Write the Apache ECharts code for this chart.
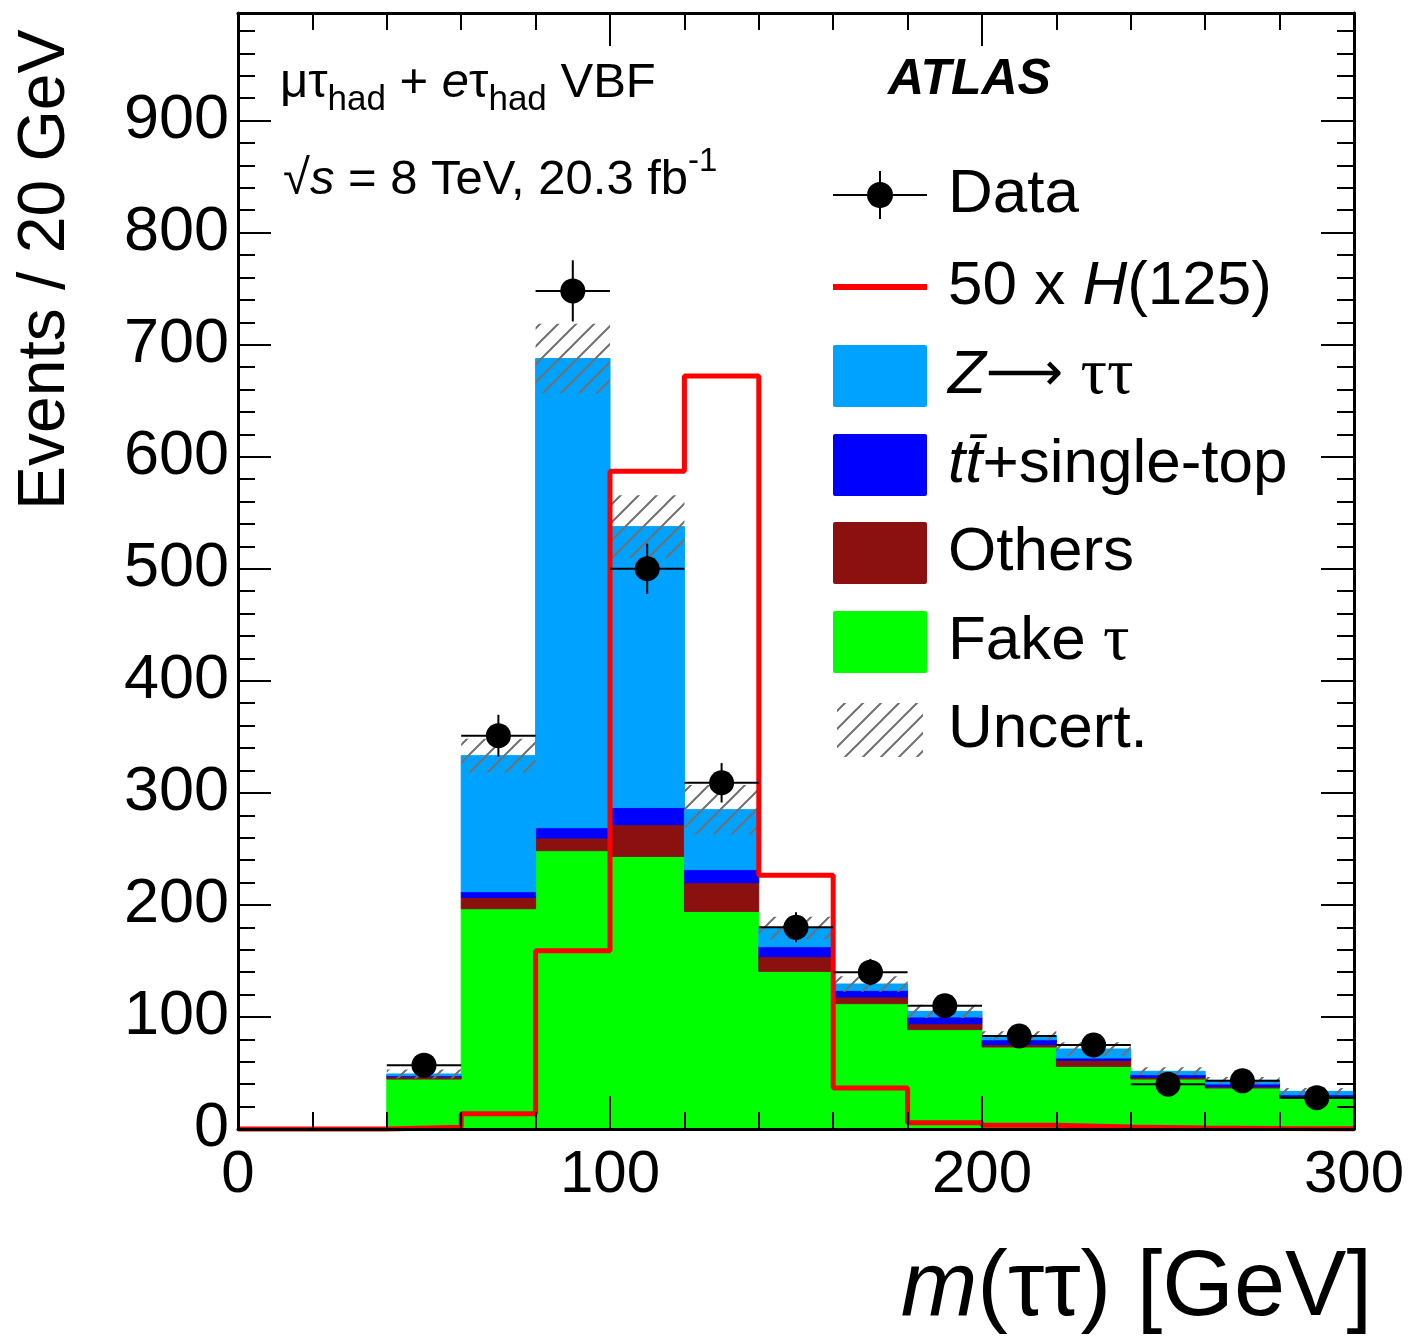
<!DOCTYPE html>
<html>
<head>
<meta charset="utf-8">
<script src="https://cdn.jsdelivr.net/npm/echarts@6/dist/echarts.min.js"></script>
<style>
  html, body { margin: 0; padding: 0; background: #fff; }
  #chart { width: 1416px; height: 1338px; }
</style>
</head>
<body>
<div id="chart"></div>
<script>
// bin edges of m(tautau) in GeV
var binEdges = [0, 20, 40, 60, 80, 100, 120, 140, 160, 180, 200, 220, 240, 260, 280, 300];
// stacked backgrounds, bottom to top
var fakeTau = [0, 0, 44.6, 196.6, 248.4, 243.3, 194.2, 140.7, 111.9, 88.7, 73.2, 55.9, 44.6, 36.6, 27.7];
var others  = [0, 0, 2.0, 10.1, 11.3, 28.3, 25.6, 13.1, 5.9, 5.3, 2.1, 5.4, 1.5, 1.2, 1.5];
var topBkg  = [0, 0, 1.0, 5.1, 9.2, 15.4, 11.7, 8.9, 6.0, 6.0, 4.4, 2.1, 2.4, 2.4, 1.4];
var ztautau = [0, 0, 1.5, 121.4, 418.7, 250.6, 53.5, 16.7, 5.6, 5.0, 3.6, 8.0, 3.0, 3.2, 3.0];
// total background uncertainty (half width)
var uncert  = [0, 0, 4, 15, 31, 28, 22, 10, 7, 6, 4, 6, 3.5, 3, 3];
// data
var dataVals = [null, null, 57, 351, 748, 500, 309, 180, 140, 110, 83, 75, 40, 43, 28];
var dataErr  = [0, 0, 7.5, 18.7, 27.3, 22.4, 17.6, 13.4, 11.8, 10.5, 9.1, 8.7, 6.3, 6.6, 5.3];
// 50 x H(125) signal
var higgs = [0, 0, 1.5, 13.5, 159, 587, 672, 226.5, 36.6, 5.5, 3.3, 1.8, 0.8, 0.5, 0.3];

var chart = echarts.init(document.getElementById('chart'));
var FONT = 'Liberation Sans, Arial, sans-serif';

// hatch pattern for the uncertainty band
function makeHatch() {
  var s = 18;
  var c = document.createElement('canvas');
  c.width = s; c.height = s;
  var ctx = c.getContext('2d');
  ctx.strokeStyle = '#707070';
  ctx.lineWidth = 2;
  ctx.beginPath();
  ctx.moveTo(-2, 2); ctx.lineTo(2, -2);
  ctx.moveTo(0, s); ctx.lineTo(s, 0);
  ctx.moveTo(s - 2, s + 2); ctx.lineTo(s + 2, s - 2);
  ctx.stroke();
  return { image: c, repeat: 'repeat' };
}
var hatch = makeHatch();

// build stacked rectangles [x0, x1, y0, y1]
var layers = [fakeTau, others, topBkg, ztautau];
var layerColors = ['#00ff00', '#8b1111', '#0000ff', '#00a2ff'];
var layerData = [[], [], [], []];
var totals = [];
for (var i = 0; i < fakeTau.length; i++) {
  var base = 0;
  for (var k = 0; k < layers.length; k++) {
    var v = layers[k][i];
    if (v > 0) layerData[k].push([binEdges[i], binEdges[i + 1], base, base + v]);
    base += v;
  }
  totals.push(base);
}
var uncData = [];
for (var i = 0; i < totals.length; i++) {
  if (uncert[i] > 0) uncData.push([binEdges[i], binEdges[i + 1], totals[i] - uncert[i], totals[i] + uncert[i]]);
}

function rectRenderer(fill, stroke) {
  return function (params, api) {
    var p0 = api.coord([api.value(0), api.value(3)]);
    var p1 = api.coord([api.value(1), api.value(2)]);
    return {
      type: 'rect',
      shape: { x: p0[0], y: p0[1], width: p1[0] - p0[0], height: p1[1] - p0[1] },
      style: stroke ? { fill: fill, stroke: stroke, lineWidth: 1 } : { fill: fill }
    };
  };
}

var series = [];
for (var k = 0; k < layers.length; k++) {
  series.push({
    type: 'custom',
    renderItem: rectRenderer(layerColors[k], layerColors[k]),
    data: layerData[k],
    encode: { x: [0, 1], y: [2, 3] },
    z: 2,
    silent: true
  });
}
series.push({
  type: 'custom',
  renderItem: rectRenderer(hatch, null),
  data: uncData,
  encode: { x: [0, 1], y: [2, 3] },
  z: 3,
  silent: true
});

// signal step line
var higgsLine = [];
for (var i = 0; i < binEdges.length; i++) {
  higgsLine.push([binEdges[i], higgs[Math.min(i, higgs.length - 1)]]);
}
series.push({
  type: 'line',
  step: 'end',
  data: higgsLine,
  symbol: 'none',
  clip: false,
  lineStyle: { color: '#ff0000', width: 5 },
  z: 4,
  silent: true
});

// data with error bars
var errData = [];
var pts = [];
for (var i = 0; i < dataVals.length; i++) {
  if (dataVals[i] == null) continue;
  errData.push([binEdges[i], binEdges[i + 1], dataVals[i], dataErr[i]]);
  pts.push([(binEdges[i] + binEdges[i + 1]) / 2, dataVals[i]]);
}
series.push({
  type: 'custom',
  data: errData,
  encode: { x: [0, 1], y: 2 },
  z: 5,
  silent: true,
  renderItem: function (params, api) {
    var x0 = api.value(0), x1 = api.value(1), y = api.value(2), e = api.value(3);
    var a = api.coord([x0, y]), b = api.coord([x1, y]);
    var xc = (x0 + x1) / 2;
    var t = api.coord([xc, y + e]), d = api.coord([xc, y - e]);
    return {
      type: 'group',
      children: [
        { type: 'line', shape: { x1: a[0], y1: a[1], x2: b[0], y2: b[1] }, style: { stroke: '#000', lineWidth: 2 } },
        { type: 'line', shape: { x1: t[0], y1: t[1], x2: d[0], y2: d[1] }, style: { stroke: '#000', lineWidth: 2 } }
      ]
    };
  }
});
series.push({
  type: 'scatter',
  data: pts,
  symbol: 'circle',
  symbolSize: 25,
  itemStyle: { color: '#000', opacity: 1 },
  z: 6,
  silent: true
});

var tickCommon = {
  axisLine: { show: true, onZero: false, lineStyle: { color: '#000', width: 3 } },
  axisTick: { show: true, inside: true, length: 33, lineStyle: { color: '#000', width: 2 } },
  minorTick: { show: true, splitNumber: 5, length: 17, lineStyle: { color: '#000', width: 2 } },
  splitLine: { show: false },
  minorSplitLine: { show: false },
  z: 10
};

function axis(extra) {
  return Object.assign({}, JSON.parse(JSON.stringify(tickCommon)), extra);
}

// legend drawn as graphic elements
var lx = 833, lw = 94, lh = 62, tx = 948;
var legRows = [195, 287, 376, 465, 553, 642, 730];
var legFont = 62;
var richLeg = {
  i: { fontFamily: FONT, fontStyle: 'italic', fontSize: legFont },
  g: { fontFamily: 'Liberation Serif, serif', fontSize: legFont + 4 },
  a: { fontFamily: 'DejaVu Sans, sans-serif', fontSize: legFont - 8 },
  n: { fontFamily: FONT, fontSize: legFont }
};
var legTexts = [
  '{n|Data}',
  '{n|50 x }{i|H}{n|(125)}',
  '{i|Z}{a|\u27f6 }{g|\u03c4\u03c4}',
  '{i|t}{i|t\u0304}{n|+single-top}',
  '{n|Others}',
  '{n|Fake }{g|\u03c4}',
  '{n|Uncert.}'
];
var graphics = [];
legTexts.forEach(function (t, idx) {
  graphics.push({
    type: 'text', x: tx, y: legRows[idx],
    style: { text: t, rich: richLeg, verticalAlign: 'middle', align: 'left', fill: '#000' }
  });
});
graphics.push(
  { type: 'line', shape: { x1: lx, y1: legRows[0], x2: lx + lw, y2: legRows[0] }, style: { stroke: '#000', lineWidth: 2 } },
  { type: 'line', shape: { x1: lx + lw / 2, y1: legRows[0] - 24, x2: lx + lw / 2, y2: legRows[0] + 24 }, style: { stroke: '#000', lineWidth: 2 } },
  { type: 'circle', shape: { cx: lx + lw / 2, cy: legRows[0], r: 13 }, style: { fill: '#000' } },
  { type: 'line', shape: { x1: lx, y1: legRows[1], x2: lx + lw, y2: legRows[1] }, style: { stroke: '#ff0000', lineWidth: 6 } }
);
[layerColors[3], layerColors[2], layerColors[1], layerColors[0]].forEach(function (c, j) {
  graphics.push({
    type: 'rect', shape: { x: lx, y: legRows[2 + j] - lh / 2, width: lw, height: lh, r: 2 },
    style: { fill: c }
  });
});
graphics.push({
  type: 'rect', shape: { x: lx + 4, y: legRows[6] - 27, width: lw - 8, height: 54 },
  style: { fill: hatch }
});

// annotation texts
var annoRich = {
  m: { fontFamily: FONT, fontSize: 49, lineHeight: 70, verticalAlign: 'middle' },
  i: { fontFamily: FONT, fontSize: 49, fontStyle: 'italic', lineHeight: 70, verticalAlign: 'middle' },
  s: { fontFamily: FONT, fontSize: 35, lineHeight: 34, verticalAlign: 'bottom' },
  u: { fontFamily: FONT, fontSize: 33, lineHeight: 34, verticalAlign: 'top' }
};
graphics.push(
  {
    type: 'text', x: 280, y: 48,
    style: { text: '{m|\u03bc\u03c4}{s|had}{m| + }{i|e}{m|\u03c4}{s|had}{m| VBF}', rich: annoRich, verticalAlign: 'top', fill: '#000' }
  },
  {
    type: 'text', x: 283, y: 145,
    style: { text: '{m|\u221a}{i|s}{m| = 8 TeV, 20.3 fb}{u|-1}', rich: annoRich, verticalAlign: 'top', fill: '#000' }
  },
  {
    type: 'text', x: 888, y: 80,
    style: { text: 'ATLAS', font: 'italic bold 50px ' + FONT, verticalAlign: 'middle', fill: '#000' }
  },
  {
    type: 'text', x: 1372, y: 1290,
    style: {
      text: '{i|m}{n|(\u03c4\u03c4) [GeV]}', align: 'right', verticalAlign: 'middle', fill: '#000',
      rich: {
        i: { fontFamily: FONT, fontStyle: 'italic', fontSize: 92 },
        n: { fontFamily: FONT, fontSize: 92 }
      }
    }
  },
  {
    type: 'text', x: 46, y: 510, rotation: Math.PI / 2,
    style: { text: 'Events / 20 GeV', font: '66px ' + FONT, align: 'left', verticalAlign: 'middle', fill: '#000' }
  }
);

var option = {
  animation: false,
  backgroundColor: '#fff',
  grid: { left: 238, right: 62, top: 13, bottom: 209, containLabel: false },
  xAxis: [
    axis({
      type: 'value', min: 0, max: 300, interval: 100, position: 'bottom',
      axisLabel: { show: true, fontSize: 60, fontFamily: FONT, color: '#000', margin: 16 }
    }),
    axis({
      type: 'value', min: 0, max: 300, interval: 100, position: 'top',
      axisLabel: { show: false }
    })
  ],
  yAxis: [
    axis({
      type: 'value', min: 0, max: 996, interval: 100, position: 'left',
      axisLabel: { show: true, fontSize: 63, fontFamily: FONT, color: '#000', margin: 9, showMaxLabel: false }
    }),
    axis({
      type: 'value', min: 0, max: 996, interval: 100, position: 'right',
      axisLabel: { show: false }
    })
  ],
  series: series,
  graphic: graphics
};
chart.setOption(option);
</script>
</body>
</html>
